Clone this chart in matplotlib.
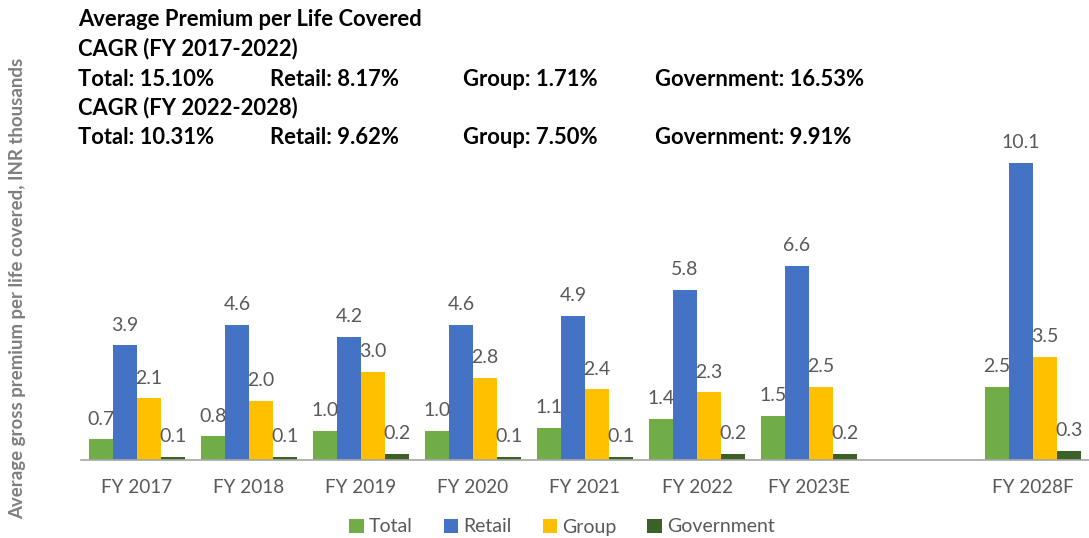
import numpy as np
import matplotlib
matplotlib.use('Agg')
import matplotlib.pyplot as plt

plt.rcParams['font.family'] = ['Lato', 'DejaVu Sans']

# ── Data ──────────────────────────────────────────────────────
CATEGORIES = ['FY 2017', 'FY 2018', 'FY 2019', 'FY 2020', 'FY 2021',
              'FY 2022', 'FY 2023E', '', 'FY 2028F']
TOTAL      = [0.7, 0.8, 1.0, 1.0, 1.1, 1.4, 1.5, np.nan, 2.5]
RETAIL     = [3.9, 4.6, 4.2, 4.6, 4.9, 5.8, 6.6, np.nan, 10.1]
GROUP      = [2.1, 2.0, 3.0, 2.8, 2.4, 2.3, 2.5, np.nan, 3.5]
GOVERNMENT = [0.1, 0.1, 0.2, 0.1, 0.1, 0.2, 0.2, np.nan, 0.3]

SERIES = ['Total', 'Retail', 'Group', 'Government']
VALUES = [TOTAL, RETAIL, GROUP, GOVERNMENT]
COLORS = ['#70AD47', '#4472C4', '#FFC000', '#3B6127']

CAGR_1 = ['Total: 15.10%', 'Retail: 8.17%', 'Group: 1.71%', 'Government: 16.53%']
CAGR_2 = ['Total: 10.31%', 'Retail: 9.62%', 'Group: 7.50%', 'Government: 9.91%']

TEXT_GRAY = '#595959'

# ── Figure ────────────────────────────────────────────────────
fig = plt.figure(figsize=(10.89, 5.38), dpi=100)
ax = fig.add_axes([0.0744, 0.145, 0.9256, 0.65])

x = np.arange(len(CATEGORIES))
width = 0.215

for i, (name, vals, col) in enumerate(zip(SERIES, VALUES, COLORS)):
    offs = (i - 1.5) * width
    ax.bar(x + offs, vals, width, color=col, label=name, linewidth=0)
    for xi, v in zip(x, vals):
        if np.isnan(v):
            continue
        ax.text(xi + offs, v + 0.4, f'{v:.1f}', ha='center', va='bottom',
                fontsize=14, color=TEXT_GRAY)

ax.set_xlim(-0.5, len(CATEGORIES) - 0.5)
ax.set_ylim(0, 11.9)
ax.set_xticks(x)
ax.set_xticklabels(CATEGORIES, fontsize=13.6, color=TEXT_GRAY)
ax.tick_params(axis='x', length=0, pad=14)
ax.set_yticks([])
for s in ['top', 'right', 'left']:
    ax.spines[s].set_visible(False)
ax.spines['bottom'].set_color('#A6A6A6')
ax.spines['bottom'].set_linewidth(1.2)

# ── Header text ───────────────────────────────────────────────
hdr = dict(fontsize=15.8, fontweight='bold', color='black', va='center')
fig.text(78 / 1089, 1 - 20 / 538, 'Average Premium per Life Covered', **hdr)
fig.text(78 / 1089, 1 - 49 / 538, 'CAGR (FY 2017-2022)', **hdr)
fig.text(78 / 1089, 1 - 108 / 538, 'CAGR (FY 2022-2028)', **hdr)
col_x = [78, 270, 463, 655]
for cx, t1, t2 in zip(col_x, CAGR_1, CAGR_2):
    fig.text(cx / 1089, 1 - 79 / 538, t1, **hdr)
    fig.text(cx / 1089, 1 - 137 / 538, t2, **hdr)

fig.text(18 / 1089, 1 - 288 / 538,
         'Average gross premium per life covered, INR thousands',
         rotation=90, ha='center', va='center', fontsize=13.4,
         fontweight='bold', color='#7F7F7F')

leg = fig.legend(loc='center', bbox_to_anchor=(0.516, 1 - 527 / 538), ncol=4,
                 frameon=False, fontsize=14, handlelength=0.75,
                 handleheight=0.75, columnspacing=1.6, handletextpad=0.25)
for t in leg.get_texts():
    t.set_color(TEXT_GRAY)

fig.savefig('out.png', dpi=100)
